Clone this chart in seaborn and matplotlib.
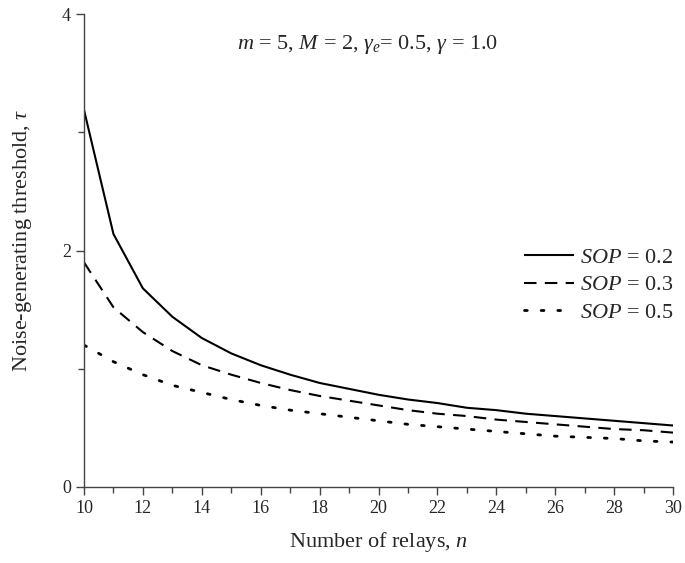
import numpy as np
import pandas as pd
import matplotlib
matplotlib.use("Agg")
import matplotlib.pyplot as plt
import seaborn as sns

n_relays = list(range(10, 31))
sop_02 = [3.19, 2.14, 1.68, 1.44, 1.26, 1.13, 1.03, 0.95, 0.88, 0.83, 0.78,
          0.74, 0.71, 0.67, 0.65, 0.62, 0.60, 0.58, 0.56, 0.54, 0.52]
sop_03 = [1.90, 1.52, 1.31, 1.15, 1.03, 0.95, 0.88, 0.82, 0.77, 0.73, 0.69,
          0.65, 0.62, 0.60, 0.57, 0.55, 0.53, 0.51, 0.49, 0.48, 0.46]
sop_05 = [1.20, 1.06, 0.95, 0.86, 0.80, 0.74, 0.69, 0.65, 0.62, 0.59, 0.56,
          0.53, 0.51, 0.49, 0.47, 0.45, 0.43, 0.42, 0.41, 0.39, 0.38]
labels = [r"$SOP$ = 0.2", r"$SOP$ = 0.3", r"$SOP$ = 0.5"]
x_ticks = list(range(10, 31, 2))
y_ticks = [0, 2, 4]

sns.set_theme(style="ticks")
plt.rcParams["font.family"] = ["Liberation Serif", "DejaVu Serif"]
plt.rcParams["mathtext.fontset"] = "custom"
plt.rcParams["mathtext.rm"] = "Liberation Serif"
plt.rcParams["mathtext.it"] = "Liberation Serif:italic"

fig = plt.figure(figsize=(6.85, 5.63), dpi=100)
ax = fig.add_axes([0.1226, 0.135, 0.86, 0.84])

styles = ["-", (0, (6, 4)), (0, (1, 5))]
widths = [1.5, 1.5, 2.0]
for ys, lab, ls, lw in zip([sop_02, sop_03, sop_05], labels, styles, widths):
    df = pd.DataFrame({"n": n_relays, "tau": ys})
    sns.lineplot(data=df, x="n", y="tau", ax=ax, color="black", label=lab,
                 linestyle=ls, linewidth=lw, solid_capstyle="butt",
                 dash_capstyle="round" if lw > 1.8 else "butt")

ax.set_xlim(10, 30)
ax.set_ylim(0, 4)
ax.set_xticks(x_ticks)
ax.set_yticks(y_ticks)
ax.set_xticks(list(range(11, 31, 2)), minor=True)
ax.set_yticks([1, 3], minor=True)
ax.tick_params(axis="both", which="major", length=6, width=1, color="#444444",
               labelsize=13, direction="out")
ax.tick_params(axis="both", which="minor", length=4, width=1, color="#444444",
               direction="out")
for s in ["top", "right"]:
    ax.spines[s].set_visible(False)
for s in ["left", "bottom"]:
    ax.spines[s].set_color("#444444")
    ax.spines[s].set_linewidth(1)

ax.set_xlabel(r"Number of relays, $n$", fontsize=16, labelpad=9)
ax.set_ylabel(r"Noise-generating threshold, $\tau$", fontsize=16)
ax.yaxis.set_label_coords(-0.085, 0.522)

ax.text(0.482, 0.935, r"$m$ = 5, $M$ = 2, $\gamma_e$= 0.5, $\gamma$ = 1.0",
        transform=ax.transAxes, ha="center", va="center", fontsize=16)

leg = ax.legend(loc="center right", bbox_to_anchor=(1.0, 0.427), frameon=False,
                fontsize=16, handlelength=2.25, handletextpad=0.25,
                labelspacing=0.3, borderpad=0, borderaxespad=0)

fig.savefig("out.png", dpi=100)
